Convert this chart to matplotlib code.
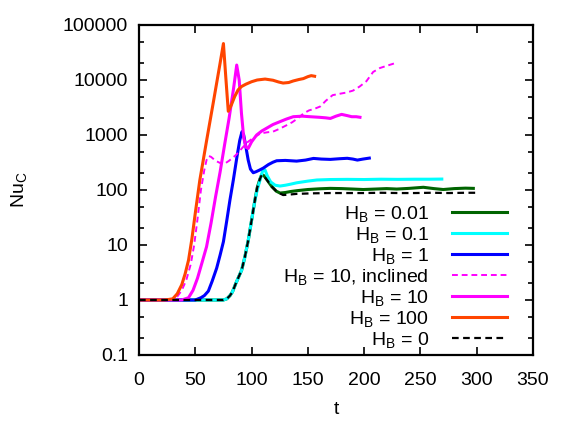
import matplotlib
matplotlib.use("Agg")
import matplotlib.pyplot as plt
from matplotlib.ticker import LogLocator, NullFormatter

plt.rcParams['font.family'] = ['Liberation Sans', 'DejaVu Sans']
plt.rcParams['mathtext.fontset'] = 'custom'
plt.rcParams['mathtext.rm'] = 'Liberation Sans'
plt.rcParams['mathtext.it'] = 'Liberation Sans:italic'

# ---- data ----
t_hb001 = [0, 75, 78, 80.8, 83, 86, 91.2, 94, 97.1, 100, 103, 105, 107.5, 109, 111, 114, 118, 122, 125.3,
           130, 135, 140.1, 150, 160, 169.7, 180, 190, 199.3, 210, 220, 229, 240, 252.6, 262, 270.3, 280, 290, 297]
y_hb001 = [1, 1, 1.05, 1.2, 1.4, 2.0, 3.5, 6, 12.3, 28, 66, 110, 160, 190, 182, 150, 115, 95, 88,
           90, 94, 97, 102, 105, 107, 106, 104, 102, 104, 106, 104, 107, 112, 106, 102, 106, 108, 107]

t_hb01 = [0, 75, 78, 80.8, 83, 86, 91.2, 94, 97.1, 100, 103, 105, 107.5, 110.4, 112, 114, 117, 121, 125.3,
          130, 135, 140, 150, 158, 170, 185, 200, 215, 230, 245, 258, 269]
y_hb01 = [1, 1, 1.05, 1.2, 1.4, 2.0, 3.5, 6, 12.3, 28, 66, 100, 152, 245, 230, 180, 140, 122, 118,
          122, 128, 135, 145, 152, 155, 156, 155, 157, 156, 157, 157, 158]

t_hb1 = [0, 50, 55, 58, 61.6, 65, 69, 72, 75, 78, 80.8, 83.8, 87, 89.5, 91.5, 93, 95, 97, 99, 101.5, 104, 107,
         110.4, 115, 119, 122.3, 130, 140, 148, 155, 162, 170, 178, 185, 190, 194, 199, 204.6]
y_hb1 = [1, 1, 1.1, 1.2, 1.45, 2.2, 3.8, 6.5, 11.5, 28, 66, 152, 400, 800, 1150, 1000, 600, 350, 240, 206, 215, 230,
         250, 290, 320, 340, 345, 335, 350, 375, 365, 360, 370, 377, 365, 350, 365, 380]

t_hb10i = [0, 25, 30, 34, 38, 42, 46, 49, 52, 55, 58, 60, 62, 64, 68, 72, 76, 80, 86, 91, 96, 102, 108, 114, 119,
           125, 131, 136, 141, 146, 151, 156, 161, 166, 172, 178, 184, 190, 196, 202, 208, 214, 220, 225, 229]
y_hb10i = [1, 1, 1.03, 1.15, 1.5, 2.3, 4.5, 10, 30, 100, 230, 350, 415, 400, 340, 310, 300, 340, 430, 560, 730, 900,
           1070, 1120, 1150, 1300, 1500, 1700, 2000, 2450, 2800, 3000, 3300, 4200, 5300, 5600, 5900, 6400, 7600,
           9500, 14000, 16500, 18100, 19500, 20700]

t_hb10 = [0, 38, 44, 48, 52, 56, 60, 64, 68, 72, 76, 80, 84, 86.8, 89, 91, 93, 95, 97, 100, 104.5, 109, 113.4,
          119, 125.3, 131, 137, 145, 152, 160, 166, 170, 175, 180, 185, 189, 193, 196.3]
y_hb10 = [1, 1, 1.1, 1.5, 2.5, 4.8, 9.3, 25, 75, 210, 660, 2000, 7000, 18700, 10000, 2500, 900, 600, 570, 750,
          1000, 1180, 1330, 1550, 1750, 1950, 2150, 2200, 2150, 2100, 2050, 2000, 2200, 2370, 2250, 2150, 2150, 2100]

t_hb100 = [0, 22, 26, 30, 34, 38, 41, 44, 47, 50, 54, 60, 66, 72, 75, 77, 79.3, 82, 85, 88, 91, 95, 100, 105,
           112, 119, 124, 128, 133, 137, 142, 146, 150, 153, 156]
y_hb100 = [1, 1, 1.02, 1.05, 1.3, 1.9, 3.0, 5.3, 13, 38, 150, 780, 3900, 20000, 46000, 12000, 2700, 3500, 5000,
           6600, 7600, 8400, 9300, 10000, 10400, 9900, 9200, 8800, 9000, 9600, 10200, 10600, 11500, 12000, 11700]

t_hb0 = [0, 75, 78, 80.8, 83, 86, 91.2, 94, 97.1, 100, 103, 105, 107.5, 109, 111, 114, 118, 122, 126, 128, 132,
         140, 155, 170, 185, 200, 215, 230, 245, 260, 275, 290, 301]
y_hb0 = [1, 1, 1.05, 1.2, 1.4, 2.0, 3.5, 6, 12.3, 28, 66, 110, 160, 187, 180, 150, 115, 95, 85, 81, 82,
         85, 87, 88, 88, 88, 89, 88, 88, 89, 88, 89, 89]

x_ticks = [0, 50, 100, 150, 200, 250, 300, 350]
y_ticks = [0.1, 1, 10, 100, 1000, 10000, 100000]
y_ticklabels = ['0.1', '1', '10', '100', '1000', '10000', '100000']

labels = [r'H$_{\mathrm{B}}$ = 0.01', r'H$_{\mathrm{B}}$ = 0.1', r'H$_{\mathrm{B}}$ = 1',
          r'H$_{\mathrm{B}}$ = 10, inclined', r'H$_{\mathrm{B}}$ = 10', r'H$_{\mathrm{B}}$ = 100',
          r'H$_{\mathrm{B}}$ = 0']

FS = 14

fig = plt.figure(figsize=(5.69, 4.23), dpi=100)
ax = fig.add_axes([0.2443, 0.1608, 0.6924, 0.7801])

lw = 2.2
ax.plot(t_hb001, y_hb001, color='#006400', lw=lw, label=labels[0])
ax.plot(t_hb01, y_hb01, color='#00FFFF', lw=lw, label=labels[1])
ax.plot(t_hb1, y_hb1, color='#0000FF', lw=lw, label=labels[2])
ax.plot(t_hb10i, y_hb10i, color='#FF00FF', lw=1.4, dashes=(3, 2), label=labels[3])
ax.plot(t_hb10, y_hb10, color='#FF00FF', lw=lw, label=labels[4])
ax.plot(t_hb100, y_hb100, color='#FF4500', lw=lw, label=labels[5])
ax.plot(t_hb0, y_hb0, color='black', lw=1.6, dashes=(3, 2), label=labels[6])

ax.set_yscale('log')
ax.set_xlim(0, 350)
ax.set_ylim(0.1, 100000)
ax.set_xticks(x_ticks)
ax.set_yticks(y_ticks)
ax.set_yticklabels(y_ticklabels)
ax.yaxis.set_minor_locator(LogLocator(base=10, subs=(2.0, 5.0), numticks=10))
ax.yaxis.set_minor_formatter(NullFormatter())

for s in ax.spines.values():
    s.set_linewidth(1.6)
ax.tick_params(which='both', direction='in', top=True, right=True, labelsize=FS, width=1.2)
ax.tick_params(which='major', length=6)
ax.tick_params(which='minor', length=3.5)
ax.tick_params(axis='x', pad=12)
ax.tick_params(axis='y', pad=8)

ax.set_xlabel('t', fontsize=FS, labelpad=9)
ax.set_ylabel(r'Nu$_{\mathrm{C}}$', fontsize=FS, labelpad=24)

leg = ax.legend(loc='lower right', bbox_to_anchor=(0.933, 0.015), frameon=False, markerfirst=False,
                fontsize=FS, handlelength=2.8, handletextpad=1.2, labelspacing=0.05,
                borderpad=0, borderaxespad=0)

fig.savefig('out.png', dpi=100)
